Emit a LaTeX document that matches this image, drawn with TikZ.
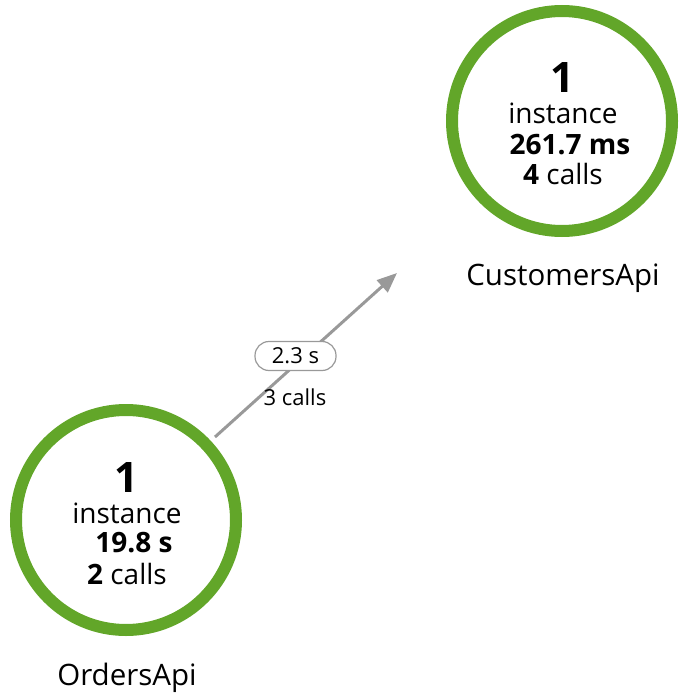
\documentclass[tikz,border=0pt]{standalone}
\usepackage{fontspec}
\setmainfont{Open Sans}
\usetikzlibrary{arrows.meta}
\definecolor{ringgreen}{RGB}{98,166,41}
\definecolor{edgegray}{RGB}{153,153,153}
\tikzset{
  ring/.style={circle, draw=ringgreen, line width=12pt, minimum size=220pt, inner sep=0pt},
  bigone/.style={font=\fontsize{42}{42}\selectfont\bfseries, inner sep=0pt, anchor=center},
  stat/.style={font=\fontsize{28}{28}\selectfont, inner sep=0pt, anchor=base},
  svcname/.style={font=\fontsize{29.5}{29.5}\selectfont, inner sep=0pt, anchor=base},
  edgelbl/.style={draw=edgegray, line width=1.2pt, fill=white, rounded corners=14pt, minimum width=81pt, minimum height=29pt, inner sep=0pt, font=\fontsize{22}{22}\selectfont},
  edgetxt/.style={font=\fontsize{22}{22}\selectfont, inner sep=0pt},
  conn/.style={draw=edgegray, line width=3pt, -{Triangle[length=20pt,width=16pt]}}
}
\begin{document}
\begin{tikzpicture}[x=1pt,y=-1pt]
\useasboundingbox (0,0) rectangle (685,695);
% circles
\node[ring] (cust) at (562,121) {};
\node[ring] (ord) at (126,520) {};
% edge
\coordinate (tip) at (397,273);
\coordinate (start) at (215,437);
\draw[conn] (start) -- (tip);
\node[edgelbl] (lbl) at (295.5,356) {2.3 s};
\node[edgetxt] (lblcalls) at (295,397) {3 calls};
% customers text
\node[bigone] (c1) at (562,78) {1};
\node[stat] (cinst) at (563,124) {instance};
\node[stat] (cms) at (570,154) {\textbf{261.7 ms}};
\node[stat] (ccalls) at (563,184) {\textbf{4} calls};
\node[svcname] (cname) at (563,285) {CustomersApi};
% orders text
\node[bigone] (o1) at (126,478) {1};
\node[stat] (oinst) at (127,523) {instance};
\node[stat] (oms) at (134,552) {\textbf{19.8 s}};
\node[stat] (ocalls) at (127,584) {\textbf{2} calls};
\node[svcname] (oname) at (127,685) {OrdersApi};
\end{tikzpicture}
\end{document}
